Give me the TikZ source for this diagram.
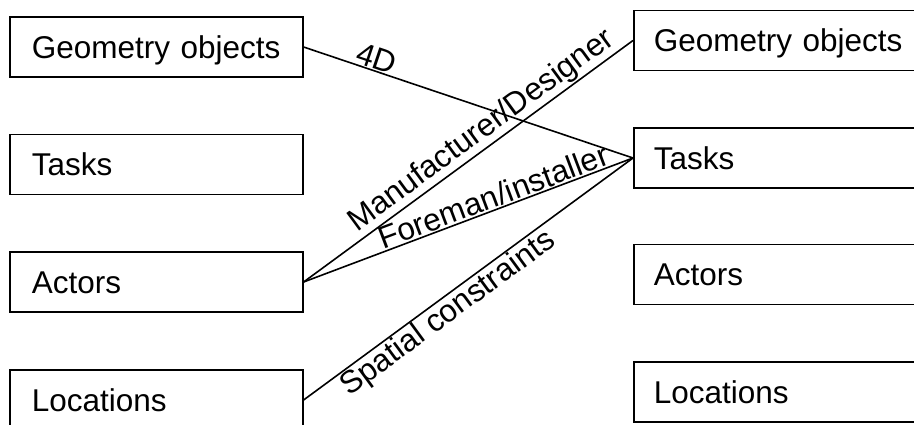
\documentclass[tikz,border=0pt]{standalone}
\usepackage{fontspec}
\setmainfont{Liberation Sans}

\begin{document}
\begin{tikzpicture}[x=1pt,y=-1pt,font=\fontsize{31.5pt}{36pt}\selectfont,
	box/.style={draw,line width=1.6pt,anchor=west,minimum height=60pt,text height=22.5pt,text depth=0pt,inner xsep=22pt,text width=249pt,align=left},
	rbox/.style={box,inner xsep=20pt,text width=253pt},
	conn/.style={line width=1.6pt},
	lbl/.style={sloped,above,inner sep=1pt},
	lblb/.style={sloped,below,inner sep=1pt}]
	\clip (0,0) rectangle (914,425);
	\node[box] (lgeo) at (9,47) {Geometry objects};
	\node[box] (ltask) at (9,164.5) {Tasks};
	\node[box] (lact) at (9,282) {Actors};
	\node[box] (lloc) at (9,400) {Locations};
	\node[rbox] (rgeo) at (633,40.5) {Geometry objects};
	\node[rbox] (rtask) at (633,158) {Tasks};
	\node[rbox] (ract) at (633,274.5) {Actors};
	\node[rbox] (rloc) at (633,392) {Locations};
	\draw[conn] (lgeo.east) -- node[lbl,pos=0.21] {4D} (rtask.west);
	\draw[conn] (lact.east) -- node[lbl,pos=0.57] {Manufacturer/Designer} (rgeo.west);
	\draw[conn] (lact.east) -- node[lbl,pos=0.59] {Foreman/installer} (rtask.west);
	\draw[conn] (lloc.east) -- node[lblb,pos=0.41] {Spatial constraints} (rtask.west);
\end{tikzpicture}
\end{document}
